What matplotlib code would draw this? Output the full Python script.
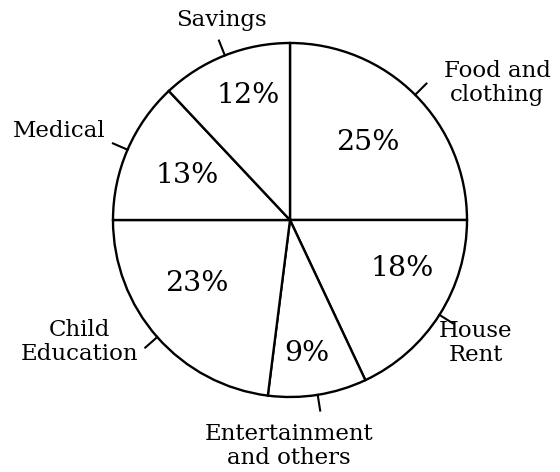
import numpy as np
import matplotlib
matplotlib.use("Agg")
import matplotlib.pyplot as plt

categories = ["Food and\nclothing", "House\nRent", "Entertainment\nand others",
              "Child\nEducation", "Medical", "Savings"]
shares = [25, 18, 9, 23, 13, 12]

W, H = 560, 472
CX, CY, R = 290, H - 220, 177

# per-slice placement of percentage text (fraction of radius, angle nudge)
pct_dist = [0.62, 0.69, 0.76, 0.64, 0.63, 0.74]
pct_nudge = [0, 9, -2, -7, 0, -3]
# outside label anchor points (pixels, image coords)
label_pos = [(497, 83), (476, 343), (289, 446), (79, 342), (59, 131), (221, 20)]

plt.rcParams["font.family"] = ["DejaVu Serif"]

fig = plt.figure(figsize=(5.6, 4.72), dpi=100)
ax = fig.add_axes([0, 0, 1, 1])

wedges, _ = ax.pie(shares, startangle=90, counterclock=False,
                   center=(CX, CY), radius=R, frame=True,
                   colors=["white"] * len(shares),
                   wedgeprops=dict(edgecolor="black", linewidth=1.7))

for i, w in enumerate(wedges):
    mid = np.deg2rad((w.theta1 + w.theta2) / 2)
    a = mid + np.deg2rad(pct_nudge[i])
    ax.text(CX + pct_dist[i] * R * np.cos(a), CY + pct_dist[i] * R * np.sin(a),
            f"{shares[i]}%", ha="center", va="center", fontsize=20.5)
    # small tick mark outside the rim
    r0, r1 = R, R * 1.09
    ax.plot([CX + r0 * np.cos(mid), CX + r1 * np.cos(mid)],
            [CY + r0 * np.sin(mid), CY + r1 * np.sin(mid)],
            color="black", linewidth=1.5)
    lx, ly = label_pos[i]
    ax.text(lx, H - ly, categories[i], ha="center", va="center",
            fontsize=16.5, linespacing=1.1)

ax.set_xlim(0, W)
ax.set_ylim(0, H)
ax.set_aspect("auto")
ax.axis("off")

fig.savefig("out.png", dpi=100, facecolor="white")
